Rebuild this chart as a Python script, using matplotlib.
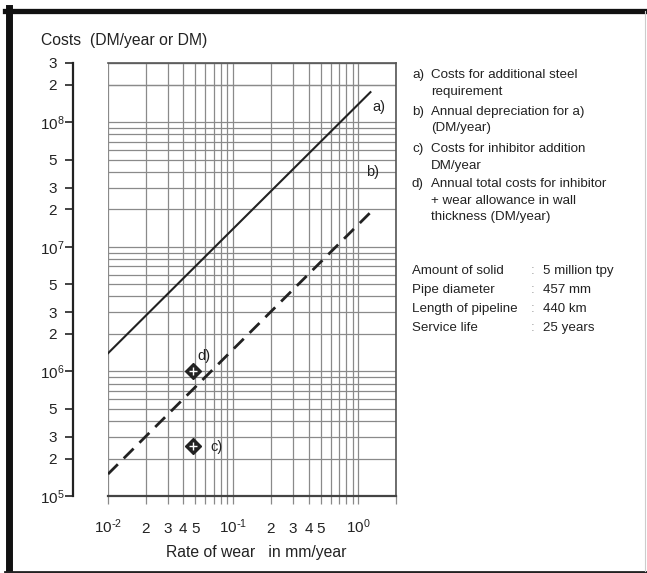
import numpy as np
import matplotlib
matplotlib.use("Agg")
import matplotlib.pyplot as plt
from matplotlib.lines import Line2D

plt.rcParams['font.family'] = ['Liberation Sans', 'DejaVu Sans']
plt.rcParams['mathtext.default'] = 'regular'

INK = '#222222'
GRID = '#8a8a8a'

line_a_x = [0.01, 1.25]
line_a_y = [1.4e6, 1.75e8]
line_b_x = [0.01, 1.32]
line_b_y = [1.5e5, 2.0e7]
point_d = (0.048, 1.0e6)
point_c = (0.048, 2.5e5)

x_ticks = [0.01, 0.02, 0.03, 0.04, 0.05, 0.06, 0.07, 0.08, 0.09,
           0.1, 0.2, 0.3, 0.4, 0.5, 0.6, 0.7, 0.8, 0.9, 1.0, 2.0]
x_labels = [r'$10^{\text{-}2}$', '2', '3', '4', '5', '', '', '', '',
            r'$10^{\text{-}1}$', '2', '3', '4', '5', '', '', '', '', '$10^{0}$', '']
y_ticks = [1e5, 2e5, 3e5, 5e5, 1e6, 2e6, 3e6, 5e6, 1e7, 2e7, 3e7, 5e7,
           1e8, 2e8, 3e8]
y_labels = ['$10^{5}$', '2', '3', '5', '$10^{6}$', '2', '3', '5',
            '$10^{7}$', '2', '3', '5', '$10^{8}$', '2', '3']
y_grid = [m * 10.0 ** e for e in range(5, 9) for m in range(1, 10)] + [2e8, 3e8]

legend_items = [
    ('a)', ['Costs for additional steel', 'requirement']),
    ('b)', ['Annual depreciation for a)', '(DM/year)']),
    ('c)', ['Costs for inhibitor addition', 'DM/year']),
    ('d)', ['Annual total costs for inhibitor', '+ wear allowance in wall',
            'thickness (DM/year)']),
]
params = [('Amount of solid', '5 million tpy'),
          ('Pipe diameter', '457 mm'),
          ('Length of pipeline', '440 km'),
          ('Service life', '25 years')]

W, H = 647, 573
fig = plt.figure(figsize=(W / 100, H / 100), dpi=100)
ax = fig.add_axes([108 / W, 1 - 496 / H, (396 - 108) / W, (496 - 63) / H])
ax.set_xscale('log')
ax.set_yscale('log')
ax.set_xlim(0.01, 2.0)
ax.set_ylim(1e5, 3e8)

# grid
for xv in x_ticks:
    ax.axvline(xv, color=GRID, lw=0.9, zorder=1)
for yv in y_grid:
    ax.axhline(yv, color=GRID, lw=0.9, zorder=1)

# lines and points
ax.plot(line_a_x, line_a_y, color=INK, lw=1.5, zorder=3)
ax.plot(line_b_x, line_b_y, color=INK, lw=2.0, ls=(0, (5, 3)), zorder=3)
for px, py in (point_d, point_c):
    ax.plot(px, py, marker='D', ms=8, color=INK, zorder=4)
    ax.plot(px, py, marker='+', ms=6, mew=1.0, color='white', zorder=5)

ax.text(1.29, 1.33e8, 'a)', color=INK, fontsize=10.5, ha='left', va='center')
ax.text(1.16, 4.0e7, 'b)', color=INK, fontsize=10.5, ha='left', va='center')
ax.text(0.0515, 1.33e6, 'd)', color=INK, fontsize=10.5, ha='left', va='center')
ax.text(0.0655, 2.47e5, 'c)', color=INK, fontsize=10.5, ha='left', va='center')

# axes styling
ax.spines['left'].set_position(('outward', 25))
ax.spines['left'].set_linewidth(1.6)
ax.spines['left'].set_color(INK)
ax.spines['bottom'].set_linewidth(1.6)
ax.spines['bottom'].set_color('#444444')
for s in ('top', 'right'):
    ax.spines[s].set_linewidth(1.2)
    ax.spines[s].set_color('#555555')

ax.set_yticks(y_ticks)
ax.set_yticklabels(y_labels)
ax.yaxis.set_minor_locator(matplotlib.ticker.NullLocator())
ax.tick_params(axis='y', length=5.8, width=1.2, color=INK, pad=9,
               labelsize=11, labelcolor=INK)
for t in ax.get_yticklabels():
    t.set_horizontalalignment('center')

ax.set_xticks(x_ticks)
ax.set_xticklabels(x_labels)
ax.xaxis.set_minor_locator(matplotlib.ticker.NullLocator())
ax.tick_params(axis='x', length=5.8, width=0.9, color=GRID, pad=21,
               labelsize=11, labelcolor=INK)
for t in ax.get_xticklabels():
    t.set_verticalalignment('baseline')

fig.text(41 / W, 1 - 40 / H, 'Costs  (DM/year or DM)', fontsize=11.3,
         color=INK, ha='left', va='center')
fig.text(256 / W, 1 - 553 / H, 'Rate of wear   in mm/year', fontsize=11.3,
         color=INK, ha='center', va='center')

# right-hand notes
starts = [75, 112, 149, 184]
for (tag, lines), y0 in zip(legend_items, starts):
    fig.text(412 / W, 1 - y0 / H, tag, fontsize=9.6, color=INK, va='center')
    for i, ln in enumerate(lines):
        fig.text(431 / W, 1 - (y0 + i * 16.5) / H, ln, fontsize=9.6,
                 color=INK, va='center')

for i, (name, val) in enumerate(params):
    y = 1 - (271 + i * 19) / H
    fig.text(412 / W, y, name, fontsize=9.6, color=INK, va='center')
    fig.text(531 / W, y, ':', fontsize=9.6, color='#999999', va='center')
    fig.text(543 / W, y, val, fontsize=9.6, color=INK, va='center')

# outer frame
fig.add_artist(Line2D([5 / W, 1], [1 - 10.5 / H] * 2, color='#111111', lw=3.8,
                      transform=fig.transFigure))
fig.add_artist(Line2D([8.5 / W] * 2, [0, 1 - 8 / H], color='#111111', lw=5.0,
                      transform=fig.transFigure))
fig.add_artist(Line2D([5 / W, 1], [1 - 571.5 / H] * 2, color='#222222', lw=2.0,
                      transform=fig.transFigure))
fig.add_artist(Line2D([645 / W] * 2, [1 - 571 / H, 1 - 11 / H], color='#cccccc',
                      lw=0.8, transform=fig.transFigure))

fig.savefig('out.png', dpi=100)
